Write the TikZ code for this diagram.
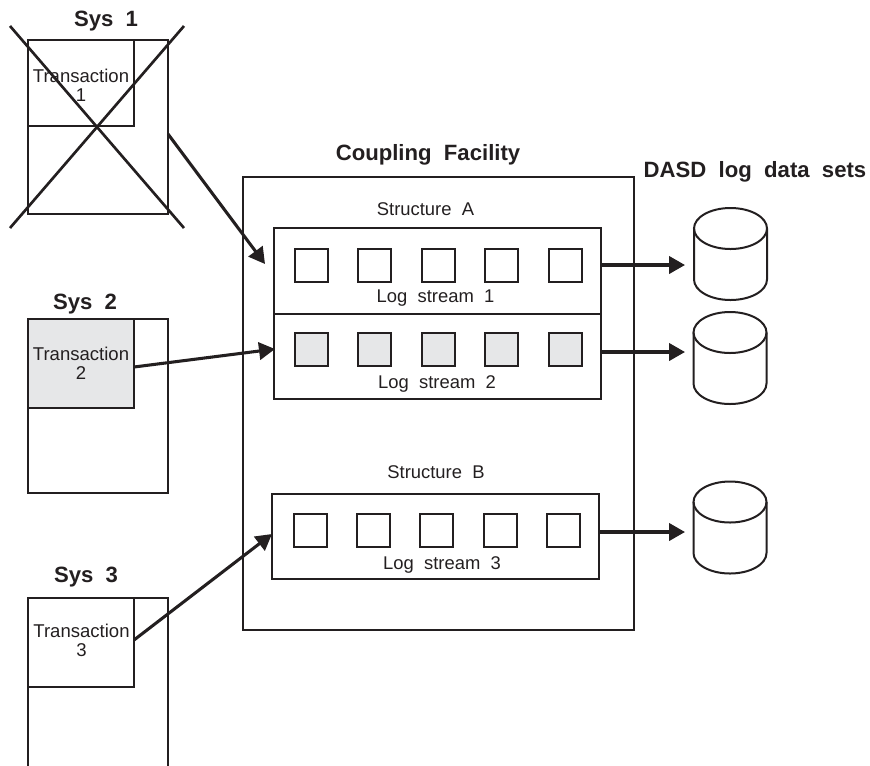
\documentclass[tikz,border=0pt]{standalone}
\usepackage{fontspec}
\setmainfont{Liberation Sans}
\usetikzlibrary{arrows.meta,shapes.geometric}
\definecolor{ink}{HTML}{231F20}
\definecolor{shade}{HTML}{E6E7E8}
\tikzset{
  bx/.style n args={2}{draw=ink,line width=1.5pt,rectangle,inner sep=0pt,outer sep=0pt,anchor=north west,
    minimum width=#1*0.75pt,minimum height=#2*0.75pt},
  sysbox/.style={bx={140}{174}},
  tranbox/.style n args={1}{bx={106}{#1}},
  logbox/.style={bx={327}{85.5}},
  cell/.style={bx={33}{33}},
  graycell/.style={cell,fill=shade},
  tranlabel/.style={text=ink,inner sep=0pt,align=center,font=\fontsize{13.9pt}{14.25pt}\selectfont},
  label/.style={text=ink,inner sep=0pt,font=\fontsize{13.8pt}{15pt}\selectfont},
  title/.style={text=ink,inner sep=0pt,font=\fontsize{16.6pt}{18pt}\selectfont\bfseries},
  conn/.style={draw=ink,line width=2.3pt,-{Triangle[length=12pt,width=13pt]}},
  cross/.style={draw=ink,line width=2pt},
  disktop/.style={draw=ink,line width=1.5pt,ellipse,inner sep=0pt,outer sep=0pt,
    minimum width=73*0.75pt,minimum height=41*0.75pt},
  diskbody/.style={draw=ink,line width=1.5pt},
}
\newcommand{\diskbase}[1]{%
  \draw[diskbody] (#1.west) -- ++(0,51) coordinate (#1a)
     .. controls +(0,11.3) and +(-20.2,0) .. ++(36.5,20.5) coordinate (#1b)
     .. controls +(20.2,0) and +(0,11.3) .. ++(36.5,-20.5) coordinate (#1c)
     -- (#1.east);}
\begin{document}
\begin{tikzpicture}[x=0.75pt,y=-0.75pt]
\clip (0,0) rectangle (870,765);
% facility
\node[bx={391}{453}] (cf) at (243,177) {};
\node[title] (cft) at (428,155) {Coupling\ \ Facility};
\node[title] (dasd) at (755,172) {DASD\ \ log\ \ data\ \ sets};
% systems
\node[sysbox] (s1) at (28,40) {};
\node[tranbox={86}] (t1) at (28,40) {};
\node[tranlabel] (t1l) at (81,85) {Transaction\\1};
\node[title] (s1t) at (106,21.5) {Sys\ \ 1};
\coordinate (x1) at (10,26); \coordinate (x2) at (184,228);
\coordinate (x3) at (184,26); \coordinate (x4) at (10,228);
\draw[cross] (x1) -- (x2);
\draw[cross] (x3) -- (x4);
\node[bx={140}{174}] (s2) at (28,319) {};
\node[tranbox={89},fill=shade] (t2) at (28,319) {};
\node[tranlabel] (t2l) at (81,363) {Transaction\\2};
\node[title] (s2t) at (85,304) {Sys\ \ 2};
\node[bx={140}{180}] (s3) at (28,598) {};
\node[tranbox={89}] (t3) at (28,598) {};
\node[tranlabel] (t3l) at (81.5,640) {Transaction\\3};
\node[title] (s3t) at (86,577) {Sys\ \ 3};
% structures
\node[label] (sa) at (425.5,209) {Structure\ \ A};
\node[logbox] (a) at (274,228) {};
\node[logbox] (b) at (274,313.5) {};
\node[label] (sb) at (436,472) {Structure\ \ B};
\node[logbox] (c) at (272,493.5) {};
\foreach \n/\x in {1/295,2/358,3/422,4/485,5/549}{
  \node[cell] (a\n) at (\x,249) {};
  \node[graycell] (b\n) at (\x,333) {};
}
\foreach \n/\x in {1/293.5,2/357,3/420,4/484,5/547}{
  \node[cell] (c\n) at (\x,514) {};
}
\node[label] (la) at (435.5,298) {Log\ \ stream\ \ 1};
\node[label] (lb) at (437,384) {Log\ \ stream\ \ 2};
\node[label] (lc) at (442,565) {Log\ \ stream\ \ 3};
% disks
\node[disktop] (d1) at (730.5,228.5) {};
\diskbase{d1}
\node[disktop] (d2) at (730,332.5) {};
\diskbase{d2}
\node[disktop] (d3) at (730,502) {};
\diskbase{d3}
% connectors
\coordinate (p1) at (168,134); \coordinate (q1) at (265,264);
\coordinate (p2) at (134,367); \coordinate (q2) at (275,349);
\coordinate (p3) at (134,640); \coordinate (q3) at (272,534);
\draw[conn] (p1) -- (q1);
\draw[conn] (p2) -- (q2);
\draw[conn] (p3) -- (q3);
\coordinate (e1) at (685,265); \coordinate (e2) at (685,352); \coordinate (e3) at (685,532);
\draw[conn] (e1 -| a.east) -- (e1);
\draw[conn] (e2 -| b.east) -- (e2);
\draw[conn] (e3 -| c.east) -- (e3);
\end{tikzpicture}
\end{document}
